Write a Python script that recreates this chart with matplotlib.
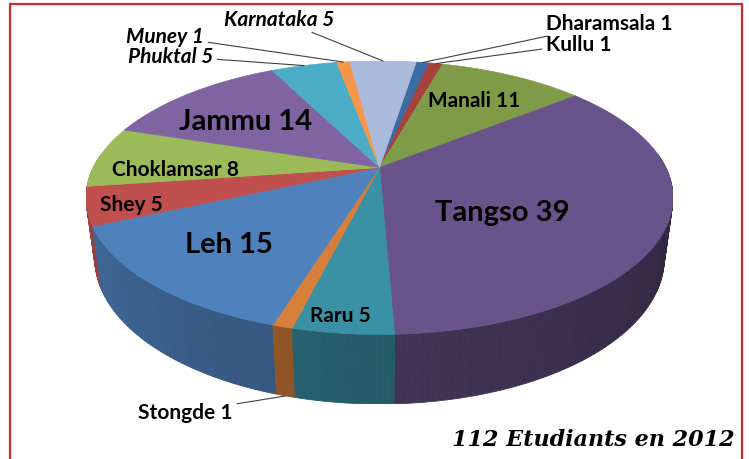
import numpy as np
import matplotlib.pyplot as plt
from matplotlib.patches import Polygon, Rectangle
import matplotlib.colors as mcolors

plt.rcParams['font.family'] = ['Lato', 'DejaVu Sans']

# data, clockwise from the top of the pie
places = ['Dharamsala', 'Kullu', 'Manali', 'Tangso', 'Raru', 'Stongde', 'Leh',
          'Shey', 'Choklamsar', 'Jammu', 'Phuktal', 'Muney', 'Karnataka']
students = [1, 1, 11, 39, 5, 1, 15, 5, 8, 14, 5, 1, 5]
colours = ['#3D6BA3', '#A8403C', '#7F9B47', '#68548A', '#3A90A5', '#D57F3A', '#4F81BD',
           '#C0504D', '#9BBB59', '#8064A2', '#4BACC6', '#F79646', '#A9BADA']
title = '112 Etudiants en 2012'

# label spots in pixels from the top-left corner
inside = {'Manali': (474, 101), 'Tangso': (502, 213), 'Raru': (340, 316), 'Leh': (229, 245),
          'Shey': (131, 205), 'Choklamsar': (175, 170), 'Jammu': (246, 122)}
big = ['Tangso', 'Leh', 'Jammu']
outside = {'Dharamsala': (546, 24, 'left', False), 'Kullu': (546, 45, 'left', False),
           'Karnataka': (334, 20, 'right', True), 'Muney': (204, 37, 'right', True),
           'Phuktal': (213, 57, 'right', True), 'Stongde': (233, 413, 'right', False)}

W, H = 749, 460
START = 81.0
ELEV = np.radians(28)
DIST = 4.0
DEPTH = 0.25


def project(theta, z, r=1.0):
    x = r * np.cos(theta)
    y = r * np.sin(theta)
    Y = z * np.cos(ELEV) + y * np.sin(ELEV)
    d = y * np.cos(ELEV) - z * np.sin(ELEV)
    s = DIST / (DIST + d)
    return x * s, Y * s


def shade(col, f):
    return tuple(np.array(mcolors.to_rgb(col)) * f)


total = sum(students)
cum = np.concatenate([[0], np.cumsum(students)])
th0 = np.radians(START - cum[:-1] / total * 360)
th1 = np.radians(START - cum[1:] / total * 360)

fig = plt.figure(figsize=(W / 100, H / 100), dpi=100)

# fit the projected pie into its pixel box
tt = np.linspace(-np.pi, np.pi, 721)
tx, ty = project(tt, 0)
bx, by = project(tt, -DEPTH)
x0, x1 = min(tx.min(), bx.min()), max(tx.max(), bx.max())
y0, y1 = by.min(), ty.max()
box = (86, 62, 673, 405)
ax = fig.add_axes([box[0] / W, 1 - box[3] / H, (box[2] - box[0]) / W, (box[3] - box[1]) / H])
ax.set_xlim(x0, x1)
ax.set_ylim(y0, y1)
ax.axis('off')

# side walls (front half), back to front
walls = []
for i, c in enumerate(colours):
    a, b = th0[i], th1[i]
    n = max(2, int(abs(a - b) / np.radians(1)) + 1)
    edges = np.linspace(b, a, n + 1)
    for e0, e1 in zip(edges[:-1], edges[1:]):
        m = 0.5 * (e0 + e1)
        mm = np.arctan2(np.sin(m), np.cos(m))
        if np.sin(mm) > 0.1:
            continue
        deg = np.degrees(mm)
        if deg > 0:
            deg = -180.0 if deg > 90 else 0.0
        f = 0.42 - 0.43 * deg / 180
        p = [project(e0, 0), project(e1, 0), project(e1, -DEPTH), project(e0, -DEPTH)]
        walls.append((np.sin(mm), p, shade(c, f)))
walls.sort(key=lambda w: -w[0])
for _, p, fc in walls:
    ax.add_patch(Polygon(p, closed=True, facecolor=fc, edgecolor=fc, lw=0.6))

# top face
cx, cy = project(0.0, 0, r=0.0)
for i, c in enumerate(colours):
    arc = np.linspace(th0[i], th1[i], max(3, int(abs(th0[i] - th1[i]) * 60)))
    px_, py_ = project(arc, 0)
    pts = np.vstack([[cx, cy], np.column_stack([px_, py_])])
    ax.add_patch(Polygon(pts, closed=True, facecolor=c, edgecolor=c, lw=0.5))

# labels
for i, name in enumerate(places):
    lab = f'{name} {students[i]}'
    mid = 0.5 * (th0[i] + th1[i])
    if name in inside:
        lx, ly = inside[name]
        fig.text(lx / W, 1 - ly / H, lab, ha='center', va='center', fontweight='bold',
                 fontsize=21 if name in big else 15, color='black')
    else:
        ox, oy, ha, it = outside[name]
        tip = project(mid, -DEPTH if name == 'Stongde' else 0)
        ax.annotate(lab, xy=tip, xytext=(ox, H - oy), textcoords='figure pixels',
                    ha=ha, va='center', fontsize=15, fontweight='bold',
                    fontstyle='italic' if it else 'normal',
                    arrowprops=dict(arrowstyle='-', color='#404040', lw=0.8,
                                    shrinkA=1, shrinkB=0))

fig.text(735 / W, 1 - 440 / H, title, ha='right', va='center', fontsize=16,
         fontweight='bold', fontstyle='italic', family='DejaVu Serif')

fig.patches.append(Rectangle((10 / W, -0.1), 732 / W, 1.1 - 5 / H, transform=fig.transFigure,
                             fill=False, edgecolor='#D42A2A', lw=1.6))

fig.savefig('out.png', dpi=100, facecolor='white')
